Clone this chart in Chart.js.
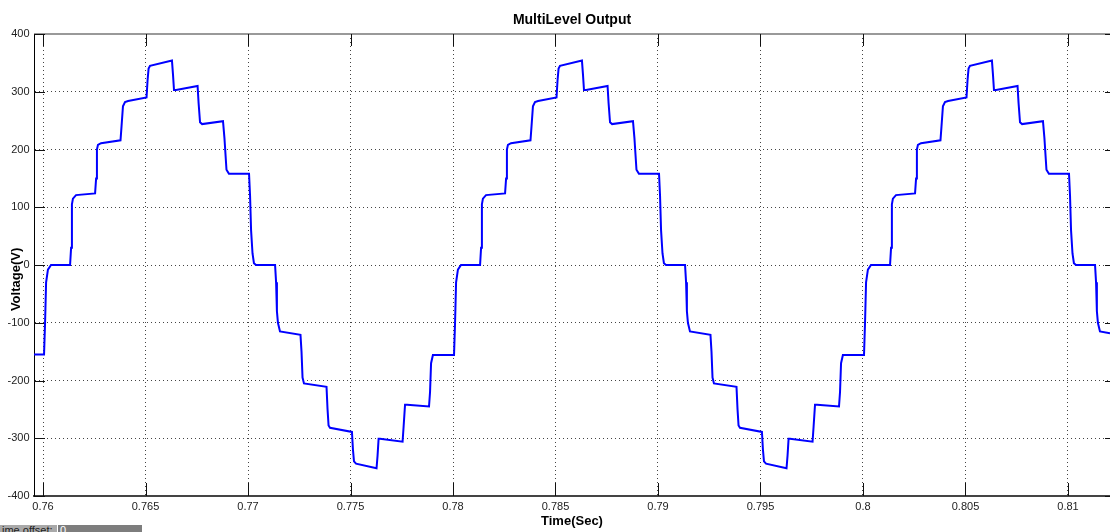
<!DOCTYPE html>
<html>
<head>
<meta charset="utf-8">
<script src="https://cdn.jsdelivr.net/npm/chart.js@4.4.1/dist/chart.umd.min.js"></script>
<style>
  html, body { margin: 0; padding: 0; background: #fff; }
  #wrap { position: relative; width: 1110px; height: 532px; overflow: hidden; }
  #chart-scope { display: block; }
  #scope-offset { position: absolute; left: 0; top: 525px; width: 142px; height: 7px; overflow: hidden;
    font: 11px "Liberation Sans", Arial, sans-serif; line-height: 10px; }
  #scope-offset span { position: absolute; top: 0; height: 7px; padding-left: 2px; box-sizing: border-box; white-space: nowrap; }
</style>
</head>
<body>
<div id="wrap">
  <canvas id="chart-scope" width="1110" height="532"></canvas>
  <div id="scope-offset">
    <span style="left:0;width:57px;background:#a9a9a9;color:#222;">ime offset:</span>
    <span style="left:58px;width:84px;background:#7d7d7d;color:#fff;">0</span>
  </div>
</div>
<script>
// Time axis (s) and inverter output voltage (V)
var timeSec = [
  0.75956, 0.76005, 0.76010, 0.76015, 0.76024, 0.76039, 0.76132, 0.76137, 0.76141, 0.76146,
  0.76161, 0.76254, 0.76259, 0.76263, 0.76268, 0.76283, 0.76378, 0.76383, 0.76390, 0.76400,
  0.76415, 0.76505, 0.76510, 0.76515, 0.76522, 0.76629, 0.76634, 0.76639, 0.76649, 0.76754,
  0.76759, 0.76766, 0.76776, 0.76878, 0.76885, 0.76895, 0.76907, 0.77005, 0.77010, 0.77015,
  0.77022, 0.77029, 0.77039, 0.77132, 0.77137, 0.77141, 0.77146, 0.77156, 0.77256, 0.77261,
  0.77266, 0.77273, 0.77383, 0.77388, 0.77393, 0.77400, 0.77507, 0.77512, 0.77517, 0.77527,
  0.77627, 0.77632, 0.77637, 0.77644, 0.77754, 0.77759, 0.77766, 0.77776, 0.77883, 0.77888,
  0.77893, 0.77902,
  0.78005, 0.78010, 0.78015, 0.78024, 0.78039, 0.78132, 0.78137, 0.78141, 0.78146,
  0.78161, 0.78254, 0.78259, 0.78263, 0.78268, 0.78283, 0.78378, 0.78383, 0.78390, 0.78400,
  0.78415, 0.78505, 0.78510, 0.78515, 0.78522, 0.78629, 0.78634, 0.78639, 0.78649, 0.78754,
  0.78759, 0.78766, 0.78776, 0.78878, 0.78885, 0.78895, 0.78907, 0.79005, 0.79010, 0.79015,
  0.79022, 0.79029, 0.79039, 0.79132, 0.79137, 0.79141, 0.79146, 0.79156, 0.79256, 0.79261,
  0.79266, 0.79273, 0.79383, 0.79388, 0.79393, 0.79400, 0.79507, 0.79512, 0.79517, 0.79527,
  0.79627, 0.79632, 0.79637, 0.79644, 0.79754, 0.79759, 0.79766, 0.79776, 0.79883, 0.79888,
  0.79893, 0.79902,
  0.80005, 0.80010, 0.80015, 0.80024, 0.80039, 0.80132, 0.80137, 0.80141, 0.80146,
  0.80161, 0.80254, 0.80259, 0.80263, 0.80268, 0.80283, 0.80378, 0.80383, 0.80390, 0.80400,
  0.80415, 0.80505, 0.80510, 0.80515, 0.80522, 0.80629, 0.80634, 0.80639, 0.80649, 0.80754,
  0.80759, 0.80766, 0.80776, 0.80878, 0.80885, 0.80895, 0.80907, 0.81005, 0.81010, 0.81015,
  0.81022, 0.81029, 0.81039, 0.81132, 0.81137, 0.81141, 0.81146, 0.81156, 0.81205
];
var voltage = [
  -155, -155, -100, -30, -8, 0, 0, 30, 105, 115,
  121, 124, 150, 200, 208, 211, 216, 240, 275, 282,
  284, 290, 320, 340, 345, 354, 330, 303, 303, 310,
  280, 247, 244, 249, 220, 165, 158, 158, 120, 60,
  20, 3, 0, 0, -30, -80, -100, -115, -121, -150,
  -195, -205, -211, -250, -278, -282, -289, -320, -340, -344,
  -352, -330, -301, -301, -306, -280, -242, -242, -245, -220,
  -170, -156,
  -156, -100, -30, -8, 0, 0, 30, 105, 115,
  121, 124, 150, 200, 208, 211, 216, 240, 275, 282,
  284, 290, 320, 340, 345, 354, 330, 303, 303, 310,
  280, 247, 244, 249, 220, 165, 158, 158, 120, 60,
  20, 3, 0, 0, -30, -80, -100, -115, -121, -150,
  -195, -205, -211, -250, -278, -282, -289, -320, -340, -344,
  -352, -330, -301, -301, -306, -280, -242, -242, -245, -220,
  -170, -156,
  -156, -100, -30, -8, 0, 0, 30, 105, 115,
  121, 124, 150, 200, 208, 211, 216, 240, 275, 282,
  284, 290, 320, 340, 345, 354, 330, 303, 303, 310,
  280, 247, 244, 249, 220, 165, 158, 158, 120, 60,
  20, 3, 0, 0, -30, -80, -100, -115, -118
];

var xTickValues = [0.76, 0.765, 0.77, 0.775, 0.78, 0.785, 0.79, 0.795, 0.80, 0.805, 0.81];
var xTickLabels = ['0.76', '0.765', '0.77', '0.775', '0.78', '0.785', '0.79', '0.795', '0.8', '0.805', '0.81'];
var yTickValues = [-400, -300, -200, -100, 0, 100, 200, 300, 400];
var yTickLabels = ['-400', '-300', '-200', '-100', '0', '100', '200', '300', '400'];

var tickFont = { family: "'Liberation Sans Narrow', 'Liberation Sans', Arial, sans-serif", size: 11 };
var boldFont = { family: "'Liberation Sans', Arial, sans-serif", size: 13, weight: 'bold' };

// scope-style frame: grey top edge and inward tick marks
var scopeFrame = {
  id: 'scopeFrame',
  beforeDatasetsDraw: function(chart) {
    var ctx = chart.ctx, a = chart.chartArea, x = chart.scales.x, y = chart.scales.y;
    ctx.save();
    ctx.strokeStyle = '#999';
    ctx.lineWidth = 2;
    ctx.beginPath();
    ctx.moveTo(a.left, a.top);
    ctx.lineTo(a.right, a.top);
    ctx.stroke();

    ctx.strokeStyle = '#111';
    ctx.lineWidth = 1;
    ctx.beginPath();
    xTickValues.forEach(function(v) {
      var px = Math.round(x.getPixelForValue(v)) + 0.5;
      ctx.moveTo(px, a.top);
      ctx.lineTo(px, a.top + 12);
      ctx.moveTo(px, a.bottom);
      ctx.lineTo(px, a.bottom - 13);
    });
    yTickValues.forEach(function(v) {
      var py = Math.round(y.getPixelForValue(v)) + 0.5;
      ctx.moveTo(a.left, py);
      ctx.lineTo(a.left + 11, py);
      ctx.moveTo(a.right, py);
      ctx.lineTo(a.right - 5, py);
    });
    ctx.stroke();
    ctx.restore();
  }
};

var points = timeSec.map(function(t, i) { return { x: t, y: voltage[i] }; });

new Chart(document.getElementById('chart-scope').getContext('2d'), {
  type: 'line',
  data: {
    datasets: [{
      label: 'Voltage',
      data: points,
      borderColor: '#0000ff',
      borderWidth: 2,
      pointRadius: 0,
      tension: 0,
      fill: false
    }]
  },
  options: {
    responsive: false,
    animation: false,
    devicePixelRatio: 1,
    layout: { padding: 0 },
    plugins: {
      legend: { display: false },
      tooltip: { enabled: false },
      title: {
        display: true,
        text: 'MultiLevel Output',
        color: '#000',
        fullSize: false,
        font: { family: "'Liberation Sans', Arial, sans-serif", size: 14, weight: 'bold', lineHeight: 1.2 },
        padding: { top: 12, bottom: 5.2 }
      }
    },
    scales: {
      x: {
        type: 'linear',
        min: 0.75956,
        max: 0.81205,
        afterBuildTicks: function(s) { s.ticks = xTickValues.map(function(v) { return { value: v }; }); },
        afterFit: function(s) { s.height = 36; },
        ticks: {
          color: '#222',
          font: tickFont,
          padding: 4,
          maxRotation: 0,
          autoSkip: false,
          callback: function(v, i) { return xTickLabels[i]; }
        },
        grid: { color: '#444', lineWidth: 1, drawTicks: false },
        border: { display: true, color: '#444', width: 2, dash: [1, 3] },
        title: {
          display: true,
          text: 'Time(Sec)',
          color: '#000',
          font: boldFont,
          padding: { top: 0, bottom: 3 }
        }
      },
      y: {
        min: -400,
        max: 400,
        afterBuildTicks: function(s) { s.ticks = yTickValues.map(function(v) { return { value: v }; }); },
        afterFit: function(s) { s.width = 34; },
        ticks: {
          color: '#222',
          font: tickFont,
          padding: 4.5,
          autoSkip: false,
          callback: function(v, i) { return yTickLabels[i]; }
        },
        grid: { color: '#444', lineWidth: 1, drawTicks: false },
        border: { display: true, color: '#000', width: 1, dash: [1, 3] },
        title: {
          display: true,
          text: 'Voltage(V)        ',
          color: '#000',
          font: boldFont,
          padding: { top: 9, bottom: 0 }
        }
      }
    }
  },
  plugins: [scopeFrame]
});
</script>
</body>
</html>
